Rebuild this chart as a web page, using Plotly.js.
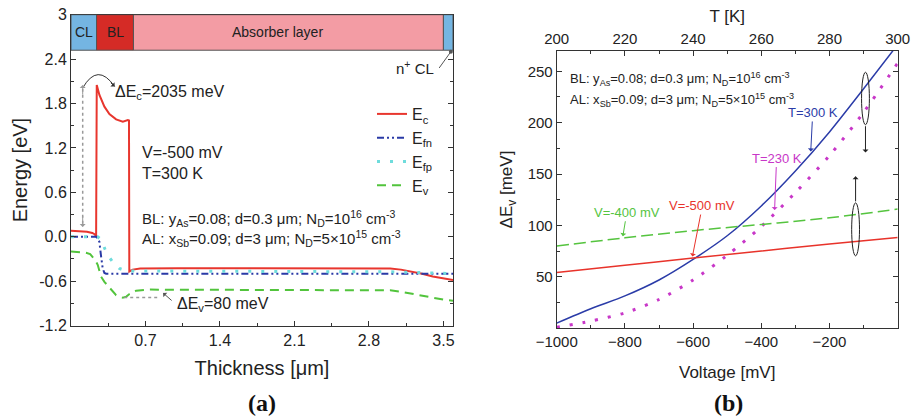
<!DOCTYPE html>
<html>
<head>
<meta charset="utf-8">
<script src="https://cdn.plot.ly/plotly-3.0.1.min.js"></script>
<style>html,body{margin:0;padding:0;background:#fff}#chart{width:914px;height:419px}</style>
</head>
<body>
<div id="chart"></div>
<script>
// ---------- Panel (a): band diagram ----------
const thickEc = [0, 0.1, 0.15, 0.2, 0.225, 0.236, 0.242, 0.267, 0.314, 0.361, 0.424, 0.487, 0.534, 0.545, 0.548, 0.58, 0.65, 1.0, 2.0, 2.9, 3.0, 3.1, 3.2, 3.3, 3.4, 3.5, 3.59];
const energyEc = [0.08, 0.075, 0.068, 0.05, 0.03, 0.0, 2.05, 1.915, 1.757, 1.658, 1.586, 1.554, 1.577, 1.57, -0.47, -0.445, -0.43, -0.425, -0.425, -0.425, -0.43, -0.445, -0.47, -0.5, -0.537, -0.565, -0.585];
const thickEfn = [0, 0.235, 0.25, 0.267, 0.283, 0.298, 0.314, 0.33, 1.0, 2.0, 3.0, 3.59];
const energyEfn = [0, 0, -0.02, -0.07, -0.27, -0.43, -0.49, -0.5, -0.5, -0.5, -0.5, -0.5];
const thickEfp = [0, 0.25, 0.275, 0.298, 0.32, 0.345, 0.392, 0.455, 0.518, 0.6, 1.0, 2.0, 3.0, 3.3, 3.59];
const energyEfp = [0, 0, -0.03, -0.09, -0.17, -0.25, -0.34, -0.43, -0.46, -0.465, -0.465, -0.468, -0.475, -0.485, -0.5];
const thickEv = [0, 0.141, 0.18, 0.204, 0.23, 0.251, 0.283, 0.314, 0.361, 0.424, 0.487, 0.52, 0.549, 0.612, 0.737, 1.0, 2.0, 2.9, 3.0, 3.1, 3.2, 3.3, 3.41, 3.5, 3.59];
const energyEv = [-0.2, -0.216, -0.235, -0.27, -0.32, -0.38, -0.54, -0.61, -0.684, -0.79, -0.824, -0.81, -0.775, -0.73, -0.715, -0.715, -0.715, -0.718, -0.725, -0.743, -0.77, -0.8, -0.83, -0.85, -0.865];
const thickTicks = [0.7, 1.4, 2.1, 2.8, 3.5];
const thickTickText = ['0.7', '1.4', '2.1', '2.8', '3.5'];
const energyTicks = [-1.2, -0.6, 0, 0.6, 1.2, 1.8, 2.4, 3];
const energyTickText = ['-1.2', '-0.6', '0.0', '0.6', '1.2', '1.8', '2.4', '3'];
const layerNames = ['CL', 'BL', 'Absorber layer', ''];
const layerStart = [0, 0.24, 0.587, 3.5];
const layerEnd = [0.24, 0.587, 3.5, 3.59];
const layerColors = ['#74B5E2', '#D52B26', '#F39CA4', '#74B5E2'];

// ---------- Panel (b): valence band offset ----------
const voltage = [-1000, -900, -800, -700, -600, -500, -400, -300, -200, -100, 0];
const dEv300K = [5, 19, 31.5, 47, 67, 90, 119, 153, 191, 233, 276];
const dEv230K = [1, 7, 15, 28, 47, 71, 99, 132, 168, 210, 258];
const temperature = [200, 220, 240, 260, 280, 300];
const dEvM500 = [54.2, 61.3, 68.3, 75.2, 81.9, 88.3];
const dEvM400 = [80, 88, 95, 101, 107.5, 116];
const voltTicks = [-1000, -800, -600, -400, -200];
const dEvTicks = [50, 100, 150, 200, 250];

const FONT = 'Arial, "Liberation Sans", sans-serif';
const AX = '#333';

const traces = [
  {x: thickEc, y: energyEc, name: 'E<sub>c</sub>', mode: 'lines', line: {color: '#E8362E', width: 2}, xaxis: 'x', yaxis: 'y'},
  {x: thickEfn, y: energyEfn, name: 'E<sub>fn</sub>', mode: 'lines', line: {color: '#2A3AA6', width: 2, dash: '7px,3px,2px,3px,2px,3px'}, xaxis: 'x', yaxis: 'y'},
  {x: thickEfp, y: energyEfp, name: 'E<sub>fp</sub>', mode: 'lines', line: {color: '#6FDCDC', width: 3, dash: '3px,10px'}, xaxis: 'x', yaxis: 'y'},
  {x: thickEv, y: energyEv, name: 'E<sub>v</sub>', mode: 'lines', line: {color: '#52C43C', width: 2, dash: '9px,6px'}, xaxis: 'x', yaxis: 'y'},
  {x: voltage, y: dEv300K, name: 'T=300 K', mode: 'lines', showlegend: false, line: {color: '#2B3CA8', width: 1.5, shape: 'spline', smoothing: 0.8}, xaxis: 'x2', yaxis: 'y2'},
  {x: voltage, y: dEv230K, name: 'T=230 K', mode: 'lines', showlegend: false, line: {color: '#C837C8', width: 3, dash: '3px,10px', shape: 'spline', smoothing: 0.8}, xaxis: 'x2', yaxis: 'y2'},
  {x: temperature, y: dEvM500, name: 'V=-500 mV', mode: 'lines', showlegend: false, line: {color: '#E8332B', width: 1.5, shape: 'spline'}, xaxis: 'x3', yaxis: 'y2'},
  {x: temperature, y: dEvM400, name: 'V=-400 mV', mode: 'lines', showlegend: false, line: {color: '#55C43F', width: 1.5, dash: '12px,5px', shape: 'spline'}, xaxis: 'x3', yaxis: 'y2'}
];

const shapes = [];
const annotations = [];
for (let i = 0; i < layerNames.length; i++) {
  shapes.push({type: 'rect', xref: 'x', yref: 'y', x0: layerStart[i], x1: layerEnd[i], y0: 2.52, y1: 3, fillcolor: layerColors[i], line: {color: '#555', width: 1}, layer: 'above'});
  if (layerNames[i]) {
    const cx = i === 2 ? 1.94 : (layerStart[i] + layerEnd[i]) / 2;
    annotations.push({xref: 'x', yref: 'y', x: cx, y: 2.76, text: layerNames[i], showarrow: false, font: {family: FONT, size: 14, color: '#222'}});
  }
}
// ΔEc markers
shapes.push({type: 'line', xref: 'x', yref: 'y', x0: 0.11, x1: 0.11, y0: 2.0, y1: 0.14, line: {color: '#999', width: 1.5, dash: 'dot'}});
shapes.push({type: 'path', xref: 'x', yref: 'y', path: 'M 0.11 2.01 Q 0.25 2.36 0.41 2.03', line: {color: '#333', width: 1}});
// ΔEv marker
shapes.push({type: 'line', xref: 'x', yref: 'y', x0: 0.5, x1: 0.816, y0: -0.82, y1: -0.82, line: {color: '#999', width: 1.5, dash: 'dot'}});
// ellipses in (b)
shapes.push({type: 'circle', xref: 'x2', yref: 'y2', x0: -106, x1: -83, y0: 198, y1: 249, line: {color: '#222', width: 1}});
shapes.push({type: 'circle', xref: 'x2', yref: 'y2', x0: -135, x1: -112, y0: 70.5, y1: 122, line: {color: '#222', width: 1}});

const txt = (xref, yref, x, y, text, size, color, extra) => Object.assign({xref, yref, x, y, text, showarrow: false, xanchor: 'left', yanchor: 'middle', font: {family: FONT, size, color: color || '#222'}}, extra || {});
const arr = (xref, yref, x, y, ax, ay, color, extra) => Object.assign({xref, yref, x, y, ax, ay, axref: xref, ayref: yref, text: '', showarrow: true, arrowhead: 1, arrowsize: 1, arrowwidth: 1, arrowcolor: color || '#333'}, extra || {});

annotations.push(
  txt('x', 'y', 0.39, 1.955, 'ΔE<sub>c</sub>=2035 meV', 16),
  arr('x', 'y', 0.41, 2.03, 0.36, 2.1),
  arr('x', 'y', 0.11, 2.05, 0.11, 1.9, '#999'),
  arr('x', 'y', 0.11, 0.13, 0.11, 0.3, '#999'),
  txt('x', 'y', 0.98, -0.92, 'ΔE<sub>v</sub>=80 meV', 16),
  arr('x', 'y', 0.865, -0.76, 0.96, -0.88, '#555'),
  txt('x', 'y', 0.65, 1.135, 'V=-500 mV', 16),
  txt('x', 'y', 0.65, 0.857, 'T=300 K', 16),
  txt('x', 'y', 0.65, 0.25, 'BL: y<sub>As</sub>=0.08; d=0.3 μm; N<sub>D</sub>=10<sup>16</sup> cm<sup>-3</sup>', 15),
  txt('x', 'y', 0.65, -0.02, 'AL: x<sub>Sb</sub>=0.09; d=3 μm; N<sub>D</sub>=5×10<sup>15</sup> cm<sup>-3</sup>', 15),
  txt('x', 'y', 3.43, 2.29, 'n<sup>+</sup> CL', 15, '#222', {xanchor: 'right'}),
  arr('x', 'y', 3.57, 2.5, 3.45, 2.26, '#555', {arrowhead: 6}),
  // panel (b)
  txt('x2', 'y2', -967, 242, 'BL: y<sub>As</sub>=0.08; d=0.3 μm; N<sub>D</sub>=10<sup>16</sup> cm<sup>-3</sup>', 13),
  txt('x2', 'y2', -967, 222.5, 'AL: x<sub>Sb</sub>=0.09; d=3 μm; N<sub>D</sub>=5×10<sup>15</sup> cm<sup>-3</sup>', 13),
  {xref: 'x2', yref: 'y2', x: -255, y: 172, ax: 2, ay: -39, text: 'T=300 K', showarrow: true, arrowhead: 1, arrowwidth: 1, arrowcolor: '#2B3CA8', font: {family: FONT, size: 13, color: '#2B3CA8'}},
  {xref: 'x2', yref: 'y2', x: -361, y: 115, ax: 2, ay: -52, text: 'T=230 K', showarrow: true, arrowhead: 1, arrowwidth: 1, arrowcolor: '#C837C8', font: {family: FONT, size: 13, color: '#C837C8'}},
  {xref: 'x3', yref: 'y2', x: 219.4, y: 89.5, ax: 4, ay: -24, text: 'V=-400 mV', showarrow: true, arrowhead: 1, arrowwidth: 1, arrowcolor: '#55C43F', font: {family: FONT, size: 13, color: '#55C43F'}},
  {xref: 'x3', yref: 'y2', x: 239.8, y: 69.8, ax: 10, ay: -51, text: 'V=-500 mV', showarrow: true, arrowhead: 1, arrowwidth: 1, arrowcolor: '#E8332B', font: {family: FONT, size: 13, color: '#E8332B'}},
  arr('x2', 'y2', -94.5, 171, -94.5, 198, '#222'),
  arr('x2', 'y2', -123.5, 148, -123.5, 122, '#222'),
  {xref: 'paper', yref: 'paper', x: 262 / 914, y: 1 - 403 / 419, xanchor: 'center', yanchor: 'middle', text: '<b>(a)</b>', showarrow: false, font: {family: '"Liberation Serif", "Times New Roman", serif', size: 24, color: '#111'}},
  {xref: 'paper', yref: 'paper', x: 728 / 914, y: 1 - 403 / 419, xanchor: 'center', yanchor: 'middle', text: '<b>(b)</b>', showarrow: false, font: {family: '"Liberation Serif", "Times New Roman", serif', size: 24, color: '#111'}}
);

const axBase = {showline: true, linecolor: AX, linewidth: 1, ticks: 'inside', ticklen: 5, tickcolor: AX, showgrid: false, zeroline: false, tickmode: 'array'};

const layout = {
  width: 914, height: 419,
  margin: {l: 0, r: 0, t: 0, b: 0},
  paper_bgcolor: '#fff', plot_bgcolor: '#fff',
  font: {family: FONT, color: '#222'},
  showlegend: true,
  legend: {x: 372 / 914, y: 1 - 97 / 419, xanchor: 'left', yanchor: 'top', bgcolor: 'rgba(0,0,0,0)', font: {family: FONT, size: 16, color: '#222'}, tracegroupgap: 0},
  xaxis: Object.assign({}, axBase, {domain: [71 / 914, 453 / 914], range: [0, 3.59], anchor: 'y', mirror: 'ticks', tickvals: thickTicks, ticktext: thickTickText, tickfont: {size: 16}, minor: {tickmode: 'linear', tick0: 0, dtick: 0.35, ticks: 'inside', ticklen: 3, tickcolor: AX}, title: {text: 'Thickness [μm]', font: {size: 20}, standoff: 13}}),
  yaxis: Object.assign({}, axBase, {domain: [1 - 325.5 / 419, 1 - 14.7 / 419], range: [-1.2, 3], anchor: 'x', mirror: 'ticks', tickvals: energyTicks, ticktext: energyTickText, tickfont: {size: 16}, minor: {tickmode: 'linear', tick0: 0, dtick: 0.3, ticks: 'inside', ticklen: 3, tickcolor: AX}, title: {text: 'Energy [eV]', font: {size: 20}, standoff: 6}}),
  xaxis2: Object.assign({}, axBase, {domain: [556.7 / 914, 897.7 / 914], range: [-1000, 0], anchor: 'y2', tickvals: voltTicks, tickfont: {size: 15}, minor: {tickmode: 'linear', tick0: 0, dtick: 100, ticks: 'inside', ticklen: 3, tickcolor: AX}, title: {text: 'Voltage [mV]', font: {size: 17}, standoff: 16}}),
  xaxis3: Object.assign({}, axBase, {overlaying: 'x2', side: 'top', anchor: 'y2', range: [200, 300], tickmode: 'linear', tick0: 200, dtick: 20, tickfont: {size: 15}, minor: {tickmode: 'linear', tick0: 200, dtick: 10, ticks: 'inside', ticklen: 3, tickcolor: AX}, title: {text: 'T [K]', font: {size: 17}, standoff: 2}}),
  yaxis2: Object.assign({}, axBase, {domain: [1 - 328.3 / 419, 1 - 50.7 / 419], range: [0, 270], anchor: 'x2', mirror: 'ticks', tickvals: dEvTicks, tickfont: {size: 15}, minor: {tickmode: 'linear', tick0: 0, dtick: 25, ticks: 'inside', ticklen: 3, tickcolor: AX}, title: {text: 'ΔE<sub>v</sub> [meV]', font: {size: 17}, standoff: 10}}),
  shapes, annotations
};

Plotly.newPlot('chart', traces, layout, {displayModeBar: false, staticPlot: true});
</script>
</body>
</html>
